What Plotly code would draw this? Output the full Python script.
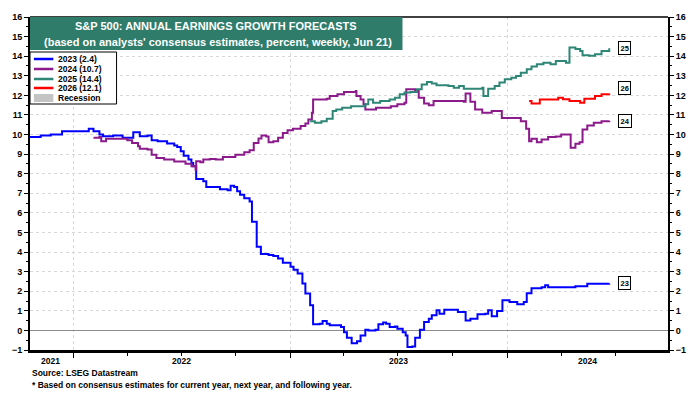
import plotly.graph_objects as go

# ---------------- data ----------------
dates_2023 = ['2021-10-19', '2021-11-06', '2021-11-23', '2021-12-12', '2022-01-01', '2022-01-26', '2022-02-03',
              '2022-02-13', '2022-02-19', '2022-03-08', '2022-03-24', '2022-04-11', '2022-04-22', '2022-05-05',
              '2022-05-12', '2022-05-22', '2022-06-07', '2022-06-19', '2022-06-24', '2022-06-30', '2022-07-05',
              '2022-07-13', '2022-07-18', '2022-07-21', '2022-07-26', '2022-08-07', '2022-08-12', '2022-09-04',
              '2022-09-17', '2022-09-22', '2022-09-28', '2022-10-03', '2022-10-08', '2022-10-15', '2022-10-24',
              '2022-10-28', '2022-11-05', '2022-11-12', '2022-11-25', '2022-12-03', '2022-12-11', '2022-12-19',
              '2023-01-01', '2023-01-06', '2023-01-13', '2023-01-21', '2023-01-26', '2023-02-03', '2023-02-08',
              '2023-02-19', '2023-02-24', '2023-03-03', '2023-03-08', '2023-03-27', '2023-04-01', '2023-04-06',
              '2023-04-14', '2023-04-23', '2023-04-29', '2023-05-07', '2023-05-12', '2023-05-24', '2023-05-29',
              '2023-06-06', '2023-06-11', '2023-06-17', '2023-06-26', '2023-06-30', '2023-07-09', '2023-07-14',
              '2023-07-17', '2023-07-25', '2023-07-30', '2023-08-07', '2023-08-14', '2023-08-22', '2023-08-27',
              '2023-09-04', '2023-09-09', '2023-09-17', '2023-10-03', '2023-10-10', '2023-10-23', '2023-10-31',
              '2023-11-12', '2023-11-25', '2023-11-30', '2023-12-06', '2023-12-15', '2023-12-24', '2024-01-05',
              '2024-01-18', '2024-01-29', '2024-02-03', '2024-02-11', '2024-02-28', '2024-03-05', '2024-03-10',
              '2024-04-25', '2024-05-15', '2024-06-04', '2024-06-21']
vals_2023 = [9.88, 9.95, 10.0, 10.17, 10.17, 10.29, 10.17,
             10.0, 9.91, 9.95, 9.83, 10.12, 9.91, 9.95,
             9.71, 9.66, 9.54, 9.44, 9.36, 9.15, 8.92,
             8.72, 8.55, 8.38, 7.73, 7.61, 7.32, 7.21,
             7.15, 7.38, 7.32, 7.1, 6.92, 6.75, 6.58,
             5.55, 4.27, 3.9, 3.85, 3.8, 3.67, 3.45,
             3.25, 3.1, 2.9, 2.39, 1.88, 1.28, 0.31,
             0.34, 0.48, 0.34, 0.26, 0.17, -0.09, -0.38,
             -0.65, -0.55, -0.26, 0.03, 0.0, 0.03, 0.31,
             0.41, 0.34, 0.17, 0.2, 0.09, -0.09, -0.26,
             -0.85, -0.82, -0.38, 0.03, 0.43, 0.6, 0.77,
             1.03, 0.85, 1.06, 1.06, 0.94, 0.51, 0.6,
             0.82, 0.85, 1.03, 0.72, 0.99, 1.54, 1.45,
             1.33, 1.45, 1.9, 2.15, 2.2, 2.3, 2.2,
             2.25, 2.38, 2.38, 2.4]

dates_2024 = ['2022-02-03', '2022-02-13', '2022-02-16', '2022-02-24', '2022-04-01', '2022-04-09', '2022-04-19',
              '2022-04-22', '2022-05-05', '2022-05-12', '2022-05-20', '2022-06-02', '2022-06-19', '2022-07-08',
              '2022-07-18', '2022-07-25', '2022-07-26', '2022-08-02', '2022-08-07', '2022-08-18', '2022-08-28',
              '2022-09-09', '2022-09-30', '2022-10-15', '2022-10-24', '2022-10-31', '2022-11-08', '2022-11-13',
              '2022-11-21', '2022-11-25', '2022-12-03', '2022-12-11', '2022-12-19', '2022-12-27', '2023-01-05',
              '2023-01-18', '2023-01-26', '2023-01-31', '2023-02-06', '2023-02-08', '2023-03-03', '2023-03-08',
              '2023-03-21', '2023-04-01', '2023-04-21', '2023-04-22', '2023-04-29', '2023-05-04', '2023-05-07',
              '2023-05-25', '2023-06-19', '2023-06-30', '2023-07-12', '2023-07-15', '2023-07-30', '2023-08-05',
              '2023-08-14', '2023-08-22', '2023-08-30', '2023-10-20', '2023-10-23', '2023-10-31', '2023-11-08',
              '2023-11-20', '2023-12-06', '2023-12-23', '2024-01-24', '2024-02-02', '2024-02-07', '2024-02-11',
              '2024-02-20', '2024-02-28', '2024-03-10', '2024-03-23', '2024-04-01', '2024-04-17', '2024-04-25',
              '2024-05-02', '2024-05-07', '2024-05-15', '2024-05-26', '2024-06-08', '2024-06-21']
vals_2024 = [9.83, 9.87, 9.66, 9.78, 9.71, 9.57, 9.4,
             9.27, 9.23, 8.97, 8.8, 8.72, 8.62, 8.51,
             8.38, 8.2, 8.63, 8.58, 8.72, 8.75, 8.72,
             8.85, 8.97, 9.09, 9.2, 9.57, 9.8, 9.95,
             9.9, 9.6, 9.66, 9.83, 10.08, 10.22, 10.29,
             10.43, 10.56, 10.77, 11.11, 11.79, 11.83, 11.97,
             12.05, 12.17, 12.22, 11.97, 11.79, 11.54, 11.28,
             11.37, 11.45, 11.54, 11.62, 12.31, 12.22, 11.88,
             11.59, 11.5, 11.71, 11.67, 12.1, 11.67, 11.28,
             11.11, 11.2, 10.85, 10.68, 10.3, 9.66, 9.78,
             9.6, 9.74, 9.87, 9.9, 10.0, 9.32, 9.53,
             9.6, 10.26, 10.46, 10.6, 10.68, 10.7]

dates_2025 = ['2023-02-03', '2023-02-11', '2023-02-22', '2023-03-03', '2023-03-13', '2023-03-19', '2023-03-29',
              '2023-04-13', '2023-05-07', '2023-05-12', '2023-05-20', '2023-06-01', '2023-06-17', '2023-06-26',
              '2023-07-04', '2023-07-12', '2023-07-22', '2023-08-02', '2023-08-10', '2023-08-19', '2023-08-27',
              '2023-09-04', '2023-09-24', '2023-10-03', '2023-10-12', '2023-10-20', '2023-11-20', '2023-11-22',
              '2023-11-30', '2023-12-11', '2023-12-19', '2023-12-28', '2024-01-08', '2024-01-16', '2024-01-24',
              '2024-02-03', '2024-02-11', '2024-02-20', '2024-03-02', '2024-03-14', '2024-03-23', '2024-04-09',
              '2024-04-15', '2024-04-25', '2024-05-03', '2024-05-07', '2024-05-18', '2024-05-28', '2024-06-08',
              '2024-06-21']
vals_2025 = [10.68, 10.6, 10.68, 10.8, 11.2, 11.28, 11.37,
             11.45, 11.54, 11.79, 11.62, 11.71, 11.79, 11.88,
             12.05, 12.14, 12.17, 12.31, 12.56, 12.68, 12.6,
             12.51, 12.48, 12.39, 12.48, 12.34, 12.39, 11.97,
             12.34, 12.48, 12.65, 12.82, 12.9, 12.99, 13.16,
             13.33, 13.47, 13.59, 13.67, 13.59, 13.76, 13.67,
             14.44, 14.36, 14.27, 14.05, 14.02, 14.1, 14.27,
             14.4]

dates_2026 = ['2024-02-07', '2024-02-11', '2024-02-25', '2024-03-27', '2024-04-04', '2024-04-15', '2024-05-03',
              '2024-05-10', '2024-05-28', '2024-06-08', '2024-06-21']
vals_2026 = [11.71, 11.59, 11.79, 11.88, 11.8, 11.71, 11.62,
             11.83, 11.97, 12.05, 12.1]

series_names = ['2023', '2024', '2025', '2026']
series_tags = ['23', '24', '25', '26']
series_colors = ['#0000FF', '#8B1A8B', '#2E8676', '#FF0000']
recession_label = 'Recession'

x_tick_labels = ['2021', '2022', '2023', '2024']
x_tick_label_dates = ['2021-11-23', '2022-07-02', '2023-07-02', '2024-05-15']
year_starts = ['2022-01-01', '2023-01-01', '2024-01-01']
x_range = ['2021-10-19', '2024-09-28']
y_range = [-1, 16]

title_line1 = 'S&P 500: ANNUAL EARNINGS GROWTH FORECASTS'
title_line2 = "(based on analysts' consensus estimates, percent, weekly, Jun 21)"
source_text = 'Source: LSEG Datastream'
footnote_text = '* Based on consensus estimates for current year, next year, and following year.'

# ---------------- figure ----------------
W, H = 698, 393
ML, MR, MT, MB = 22, 20, 17, 43
PW, PH = W - ML - MR, H - MT - MB


def px(xp):
    return (xp - ML) / PW


def py(yp):
    return (H - MB - yp) / PH


FONT = 'Liberation Sans, Arial, sans-serif'

all_dates = [dates_2023, dates_2024, dates_2025, dates_2026]
all_vals = [vals_2023, vals_2024, vals_2025, vals_2026]

fig = go.Figure()
for d, v, c in zip(all_dates, all_vals, series_colors):
    fig.add_trace(go.Scatter(x=d, y=v, mode='lines', line=dict(color=c, width=2, shape='hv'),
                             showlegend=False, hoverinfo='skip'))
# anchor trace for the right axis
fig.add_trace(go.Scatter(x=[dates_2023[0]], y=[None], yaxis='y2', mode='lines', showlegend=False,
                         hoverinfo='skip'))

tickfont = dict(family=FONT, size=9, color='black', weight='bold')
GRID = '#d8d8d8'

fig.update_layout(
    width=W, height=H,
    margin=dict(l=ML, r=MR, t=MT, b=MB),
    paper_bgcolor='white', plot_bgcolor='white',
    showlegend=False,
    xaxis=dict(type='date', range=x_range, tickvals=year_starts, ticktext=[''] * len(year_starts),
               ticks='outside', ticklen=5, tickwidth=1, tickcolor='black',
               showgrid=True, gridcolor=GRID, griddash='dot', gridwidth=1,
               showline=True, linecolor='black', linewidth=2.5, zeroline=False,
               minor=dict(dtick='M3', tick0='2022-01-01', ticks='outside', ticklen=3,
                          tickcolor='black', showgrid=False)),
    yaxis=dict(range=y_range, dtick=1, tick0=0, ticks='outside', ticklen=4, tickcolor='black',
               showline=True, linecolor='black', linewidth=2,
               showgrid=True, gridcolor=GRID, griddash='dot', gridwidth=1,
               zeroline=True, zerolinecolor='#8c8c8c', zerolinewidth=1,
               tickfont=tickfont,
               minor=dict(dtick=0.5, ticks='outside', ticklen=2, tickcolor='black', showgrid=False)),
    yaxis2=dict(range=y_range, dtick=1, tick0=0, overlaying='y', side='right', ticks='outside',
                ticklen=4, tickcolor='black', showline=True, linecolor='black', linewidth=2,
                showgrid=False, zeroline=False, tickfont=tickfont,
                minor=dict(dtick=0.5, ticks='outside', ticklen=2, tickcolor='black')),
)

shapes = []
annotations = []

# top border
shapes.append(dict(type='line', xref='paper', yref='paper', x0=0, x1=1, y0=1, y1=1,
                   line=dict(color='black', width=1.5)))

# title box
shapes.append(dict(type='rect', xref='paper', yref='paper', x0=0, x1=px(405), y0=py(50), y1=1,
                   fillcolor='#2F7C6B', line=dict(width=0), layer='above'))
annotations.append(dict(xref='paper', yref='paper', x=px(213), y=py(26), text='<b>' + title_line1 + '</b>',
                        showarrow=False, xanchor='center', yanchor='middle',
                        font=dict(family=FONT, size=11, color='white')))
annotations.append(dict(xref='paper', yref='paper', x=px(215), y=py(42), text='<b>' + title_line2 + '</b>',
                        showarrow=False, xanchor='center', yanchor='middle',
                        font=dict(family=FONT, size=11, color='white')))

# custom legend
shapes.append(dict(type='rect', xref='paper', yref='paper', x0=px(22), x1=px(111), y0=py(104), y1=py(52),
                   fillcolor='white', line=dict(color='black', width=1), layer='above'))
legend_y = [59, 69, 79, 88]
for name, vals, c, ly in zip(series_names, all_vals, series_colors, legend_y):
    shapes.append(dict(type='line', xref='paper', yref='paper', x0=px(26), x1=px(46), y0=py(ly), y1=py(ly),
                       line=dict(color=c, width=2.5), layer='above'))
    annotations.append(dict(xref='paper', yref='paper', x=px(49), y=py(ly),
                            text='<b>%s (%s)</b>' % (name, vals[-1]), showarrow=False,
                            xanchor='left', yanchor='middle',
                            font=dict(family=FONT, size=8.5, color='black')))
shapes.append(dict(type='rect', xref='paper', yref='paper', x0=px(26), x1=px(46), y0=py(102), y1=py(94),
                   fillcolor='#c4c4c4', line=dict(width=0), layer='above'))
annotations.append(dict(xref='paper', yref='paper', x=px(49), y=py(98), text='<b>' + recession_label + '</b>',
                        showarrow=False, xanchor='left', yanchor='middle',
                        font=dict(family=FONT, size=8.5, color='black')))

# end tags
tag_x = '2024-07-17'
tag_shift = [0, 0, 0, 5]
for tag, vals, sh in zip(series_tags, all_vals, tag_shift):
    annotations.append(dict(x=tag_x, y=vals[-1], xref='x', yref='y', text='<b>' + tag + '</b>',
                            showarrow=False, xanchor='center', yanchor='middle', yshift=sh,
                            bgcolor='white', bordercolor='black', borderwidth=1, borderpad=1.5,
                            font=dict(family=FONT, size=7.5, color='black')))

# x labels centred in each visible year
for lab, d in zip(x_tick_labels, x_tick_label_dates):
    annotations.append(dict(x=d, y=py(361), xref='x', yref='paper', text='<b>' + lab + '</b>',
                            showarrow=False, xanchor='center', yanchor='middle',
                            font=dict(family=FONT, size=8.5, color='black')))

# source / footnote
annotations.append(dict(xref='paper', yref='paper', x=px(22), y=py(373), text='<b>' + source_text + '</b>',
                        showarrow=False, xanchor='left', yanchor='middle',
                        font=dict(family=FONT, size=8.5, color='black')))
annotations.append(dict(xref='paper', yref='paper', x=px(22), y=py(385), text='<b>' + footnote_text + '</b>',
                        showarrow=False, xanchor='left', yanchor='middle',
                        font=dict(family=FONT, size=8.5, color='black')))

fig.update_layout(shapes=shapes, annotations=annotations)

fig.write_html('out.html', config={'displayModeBar': False},
               post_script="document.body.style.margin='0';document.body.style.overflow='hidden';")
